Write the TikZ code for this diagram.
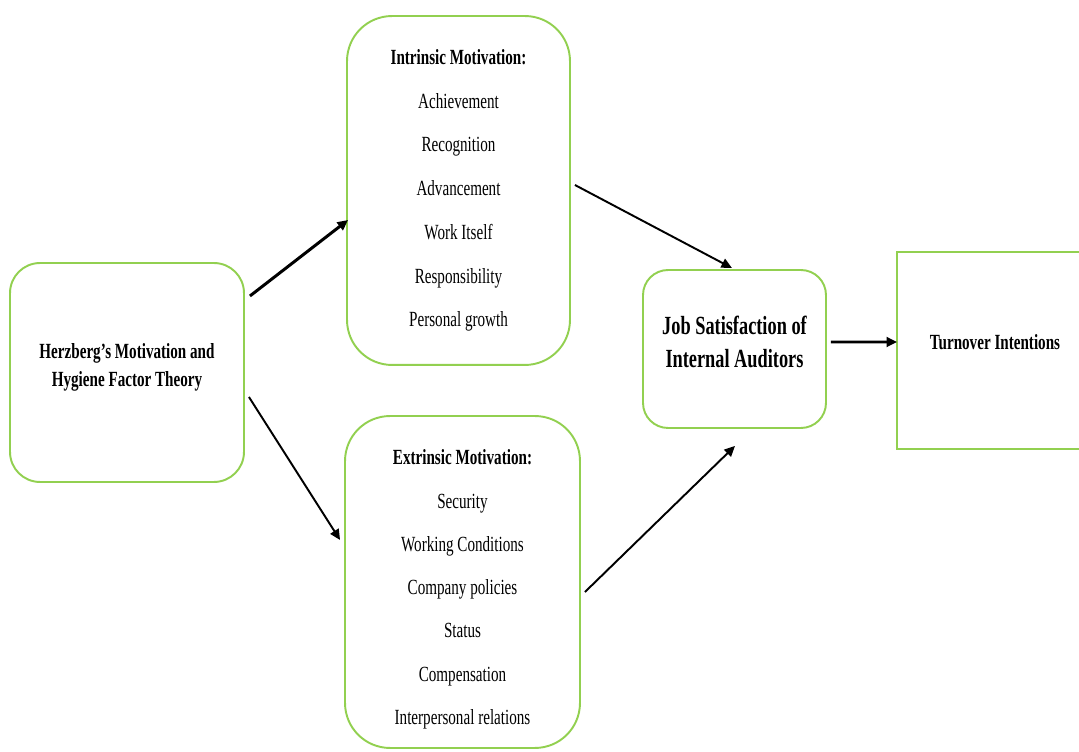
\documentclass[tikz,border=0pt]{standalone}
\usepackage{fontspec}
\setmainfont{Liberation Serif}[FakeStretch=0.7]
\usetikzlibrary{arrows.meta}
\definecolor{boxgreen}{RGB}{146,208,80}
\begin{document}
\begin{tikzpicture}[x=0.02cm,y=0.02cm,
                        thick,
                        round box/.style={rectangle,draw=boxgreen,line width=1.1pt,align=center,inner sep=0pt},
                        plain box/.style={rectangle,draw=boxgreen,line width=1.1pt,align=center,inner sep=0pt},
                        list font/.style={font=\fontsize{12.3}{24.9}\selectfont},
                        link/.style={-{Triangle[length=6pt,width=5.5pt]},line width=1.1pt},
                        main link/.style={link,line width=1.7pt}
                       ]
      \useasboundingbox (0,0) rectangle (1079,751);
      \node[round box,rounded corners=0.6cm,minimum width=4.68cm,minimum height=4.38cm,
            font=\fontsize{12.3}{15.9}\selectfont\bfseries] (herz) at (127,378.5)
            {Herzberg's Motivation and\\Hygiene Factor Theory\rule[-8.5pt]{0pt}{0pt}};
      \node[round box,rounded corners=0.9cm,minimum width=4.46cm,minimum height=6.98cm,list font] (intr) at (458.5,560.5)
            {\textbf{Intrinsic Motivation:}\\Achievement\\Recognition\\Advancement\\Work Itself\\Responsibility\\Personal growth};
      \node[round box,rounded corners=0.9cm,minimum width=4.7cm,minimum height=6.64cm,
            font=\fontsize{12.3}{24.6}\selectfont] (extr) at (462.5,169)
            {\rule{0pt}{17pt}\textbf{Extrinsic Motivation:}\\Security\\Working Conditions\\Company policies\\Status\\Compensation\\Interpersonal relations};
      \node[round box,rounded corners=0.5cm,minimum width=3.66cm,minimum height=3.16cm,
            font=\fontsize{14.9}{18.7}\selectfont\bfseries] (job) at (734.5,402)
            {Job Satisfaction of\\Internal Auditors\rule[-8pt]{0pt}{0pt}};
      \node[plain box,minimum width=3.92cm,minimum height=3.94cm,
            font=\fontsize{12.3}{15}\selectfont\bfseries] (turn) at (995,400.5)
            {Turnover Intentions\rule[-10.2pt]{0pt}{0pt}};
      % gaps between arrows and boxes as in the drawing
      \draw[main link] ([shift={(5,76.5)}]herz.east) -- ([shift={(2,-29.5)}]intr.west);
      \draw[link] ([shift={(4,-24.5)}]herz.east) -- ([shift={(-4,42)}]extr.west);
      \draw[link] ([shift={(4,5.5)}]intr.east) -- ([shift={(-2.5,1)}]job.north);
      \draw[link] ([shift={(4,-10)}]extr.east) -- ([shift={(0.5,-17)}]job.south);
      \draw[main link] ([shift={(4,7)}]job.east) -- ([shift={(1,8.5)}]turn.west);
 \end{tikzpicture}
\end{document}
